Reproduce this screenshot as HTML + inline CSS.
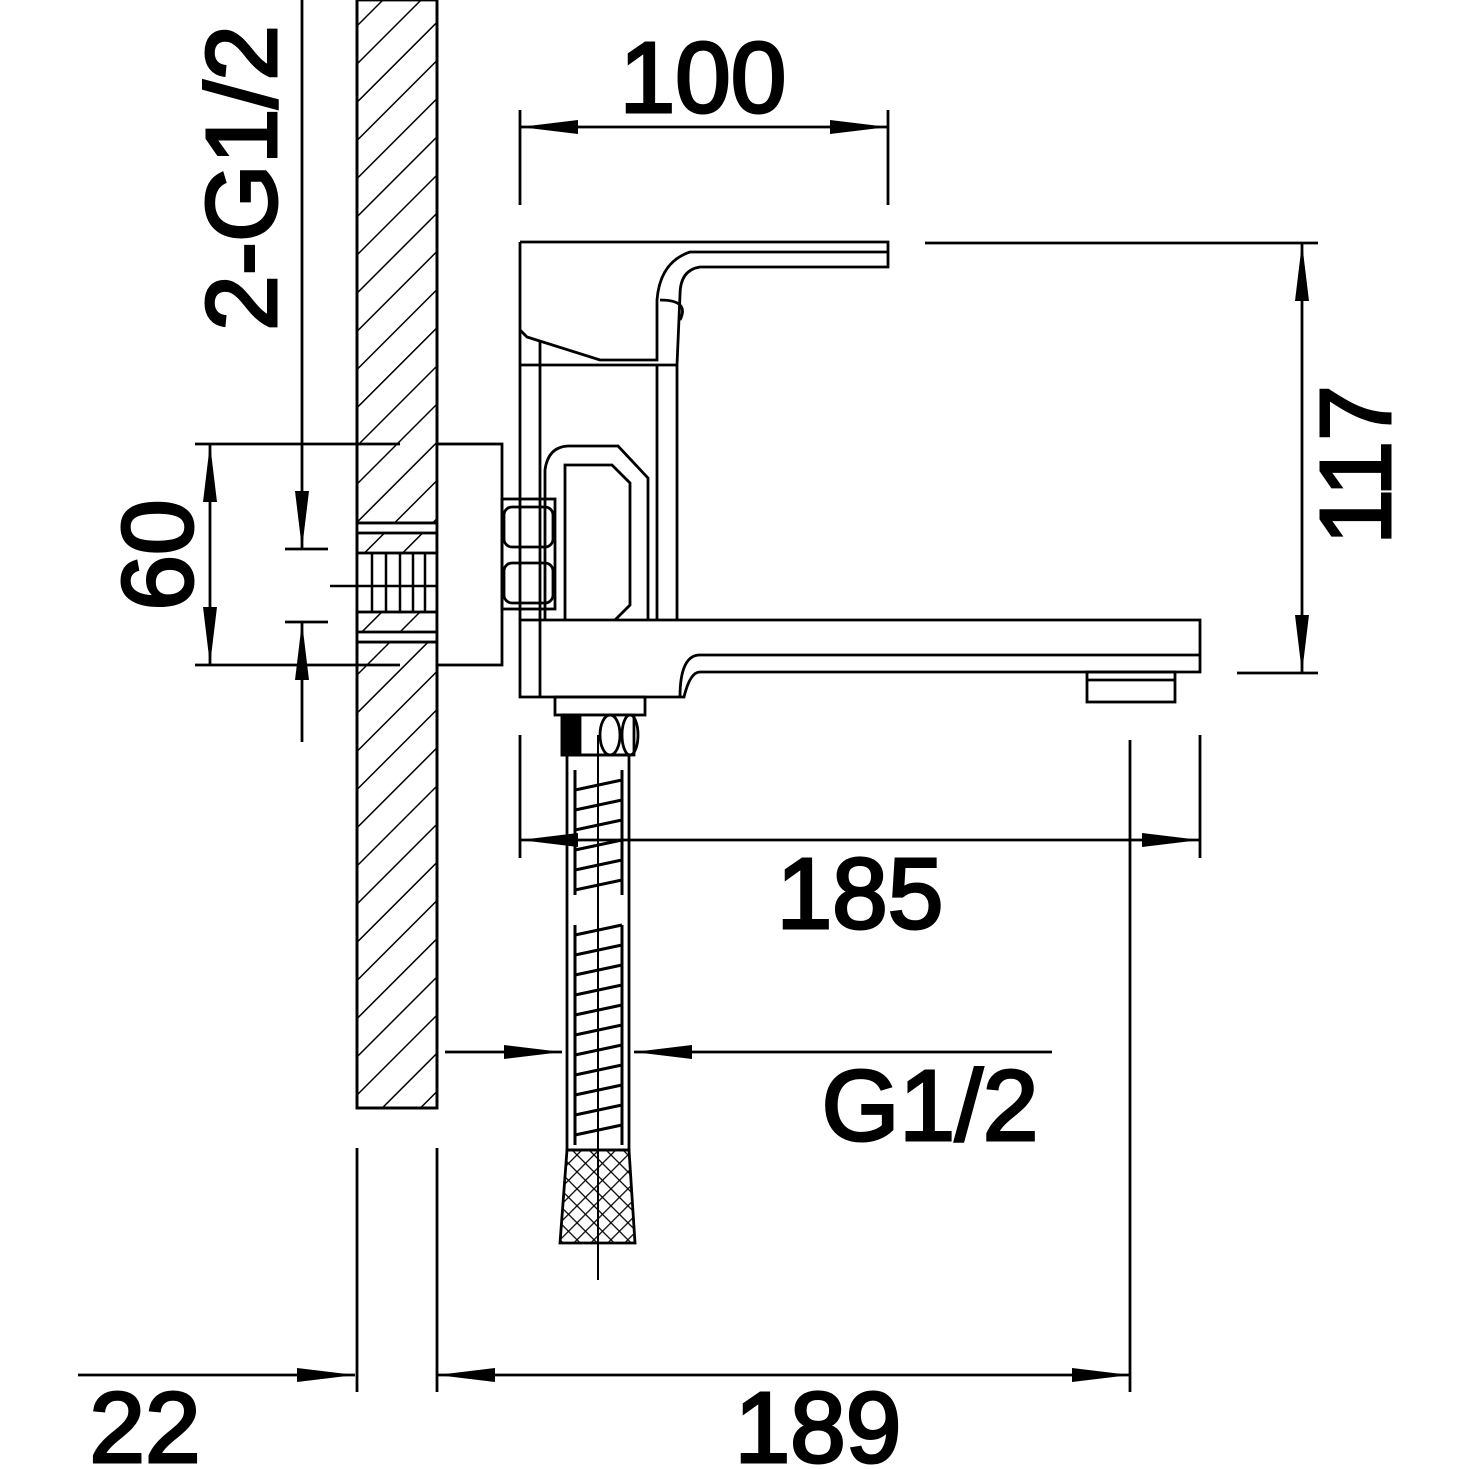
<!DOCTYPE html>
<html><head><style>html,body{margin:0;padding:0;background:#fff}svg{display:block}</style></head><body>
<svg width="1469" height="1469" viewBox="0 0 1469 1469" xmlns="http://www.w3.org/2000/svg">
<defs>
<pattern id="h" patternUnits="userSpaceOnUse" width="27" height="27" patternTransform="rotate(45)">
<line x1="0" y1="0" x2="0" y2="27" stroke="#000" stroke-width="3"/>
</pattern>
<pattern id="k" patternUnits="userSpaceOnUse" width="12" height="12" patternTransform="rotate(45)">
<line x1="0" y1="0" x2="0" y2="12" stroke="#000" stroke-width="2.5"/>
<line x1="0" y1="0" x2="12" y2="0" stroke="#000" stroke-width="2.5"/>
</pattern>
<marker id="a" viewBox="0 0 58 14" refX="58" refY="7" markerWidth="58" markerHeight="14" markerUnits="userSpaceOnUse" orient="auto-start-reverse">
<path d="M0,0 L58,7 L0,14 Z" fill="#000"/>
</marker>
</defs>
<g stroke="#000" stroke-width="2.8" fill="none">
<rect x="357" y="0" width="80" height="523" fill="url(#h)"/>
<rect x="357" y="642" width="80" height="466" fill="url(#h)"/>
<rect x="357" y="-5" width="80" height="1113"/>
<line x1="357" y1="1148" x2="357" y2="1392"/>
<line x1="437" y1="1148" x2="437" y2="1392"/>
<rect x="357" y="523" width="80" height="119" fill="#fff"/>
<rect x="357" y="533" width="80" height="20" fill="url(#h)"/>
<rect x="357" y="612" width="80" height="20" fill="url(#h)"/>
<g stroke-width="2.5">
<line x1="372" y1="553" x2="372" y2="612"/><line x1="386" y1="553" x2="386" y2="612"/>
<line x1="400" y1="553" x2="400" y2="612"/><line x1="413" y1="553" x2="413" y2="612"/>
<line x1="425" y1="553" x2="425" y2="612"/>
<line x1="330" y1="586" x2="458" y2="586"/>
</g>
<rect x="437" y="444" width="65" height="221" fill="#fff"/>
<rect x="502" y="499" width="53" height="110"/>
<rect x="504" y="507" width="49" height="40" rx="8"/>
<rect x="504" y="563" width="49" height="40" rx="8"/>
<path d="M520,242 L888,242 L888,267 L700,267 Q680,270 680,295 L677,365 L677,620"/>
<path d="M520,242 L520,620 M540,340 L540,620 M657,365 L657,620"/>
<path d="M520,330 L527,337 L600,360 L657,360 L657,300 Q660,262 690,252 L888,252"/>
<path d="M520,365 L677,365"/>
<path d="M660,300 Q690,300 680,320"/>
<path d="M545,620 L545,470 Q548,447 568,446 L618,446 L648,478 L648,620"/>
<path d="M565,620 L565,465 L612,465 L630,483 L630,605 L615,620"/>
<path d="M520,620 L1200,620 L1200,672 L700,672 Q690,672 684,697 L520,697 Z"/>
<line x1="540" y1="620" x2="540" y2="697"/>
<path d="M680,697 Q680,655 700,655 L1200,655" />
<rect x="1087" y="672" width="88" height="30"/>
<line x1="1087" y1="680" x2="1175" y2="680"/>
<rect x="555" y="697" width="90" height="18"/>
<rect x="562" y="715" width="72" height="40" fill="#fff"/>
<rect x="562" y="715" width="18" height="40" fill="#000"/>
<ellipse cx="610" cy="735" rx="10" ry="20"/><ellipse cx="630" cy="735" rx="8" ry="20"/>
<rect x="567" y="755" width="62" height="395"/>
<g stroke-width="3">
<path d="M575,790 L622,780 M575,810 L622,800 M575,830 L622,820 M575,850 L622,840 M575,870 L622,860 M575,890 L622,880 M575,935 L622,925 M575,955 L622,945 M575,975 L622,965 M575,995 L622,985 M575,1015 L622,1005 M575,1035 L622,1025 M575,1055 L622,1045 M575,1075 L622,1065 M575,1095 L622,1085 M575,1115 L622,1105 M575,1135 L622,1125"/>
<line x1="575" y1="770" x2="575" y2="895"/><line x1="622" y1="770" x2="622" y2="895"/>
<line x1="575" y1="925" x2="575" y2="1145"/><line x1="622" y1="925" x2="622" y2="1145"/>
</g>
<line x1="598" y1="735" x2="598" y2="1280" stroke-width="2"/>
<path d="M567,1150 L629,1150 L635,1243 L560,1243 Z" fill="url(#k)"/>
<line x1="520" y1="110" x2="520" y2="205"/><line x1="888" y1="110" x2="888" y2="205"/>
<line x1="520" y1="127" x2="888" y2="127" marker-start="url(#a)" marker-end="url(#a)"/>
<line x1="925" y1="243" x2="1318" y2="243"/><line x1="1237" y1="673" x2="1318" y2="673"/>
<line x1="1302" y1="243" x2="1302" y2="673" marker-start="url(#a)" marker-end="url(#a)"/>
<line x1="520" y1="735" x2="520" y2="858"/><line x1="1200" y1="735" x2="1200" y2="858"/>
<line x1="520" y1="840" x2="1200" y2="840" marker-start="url(#a)" marker-end="url(#a)"/>
<line x1="445" y1="1052" x2="562" y2="1052" marker-end="url(#a)"/>
<line x1="1052" y1="1052" x2="634" y2="1052" marker-end="url(#a)"/>
<line x1="1130" y1="740" x2="1130" y2="1392"/>
<line x1="437" y1="1375" x2="1130" y2="1375" marker-start="url(#a)" marker-end="url(#a)"/>
<line x1="78" y1="1375" x2="355" y2="1375" marker-end="url(#a)"/>
<line x1="195" y1="444" x2="400" y2="444"/><line x1="195" y1="665" x2="400" y2="665"/>
<line x1="210" y1="444" x2="210" y2="665" marker-start="url(#a)" marker-end="url(#a)"/>
<line x1="285" y1="549" x2="328" y2="549"/><line x1="285" y1="622" x2="328" y2="622"/>
<line x1="302" y1="0" x2="302" y2="549" marker-end="url(#a)"/>
<line x1="302" y1="742" x2="302" y2="622" marker-end="url(#a)"/>
</g>
<g font-family="'Liberation Sans Narrow','Liberation Sans',sans-serif" font-size="100" fill="#000" stroke="#000" stroke-width="3" text-anchor="middle">
<text x="703" y="112">100</text>
<text x="860" y="928">185</text>
<text x="930" y="1140">G1/2</text>
<text x="818" y="1462">189</text>
<text x="145" y="1462">22</text>
<text transform="translate(1390,465) rotate(-90)">117</text>
<text transform="translate(192,555) rotate(-90)">60</text>
<text transform="translate(276,178) rotate(-90)">2-G1/2</text>
</g>
</svg>
</body></html>
